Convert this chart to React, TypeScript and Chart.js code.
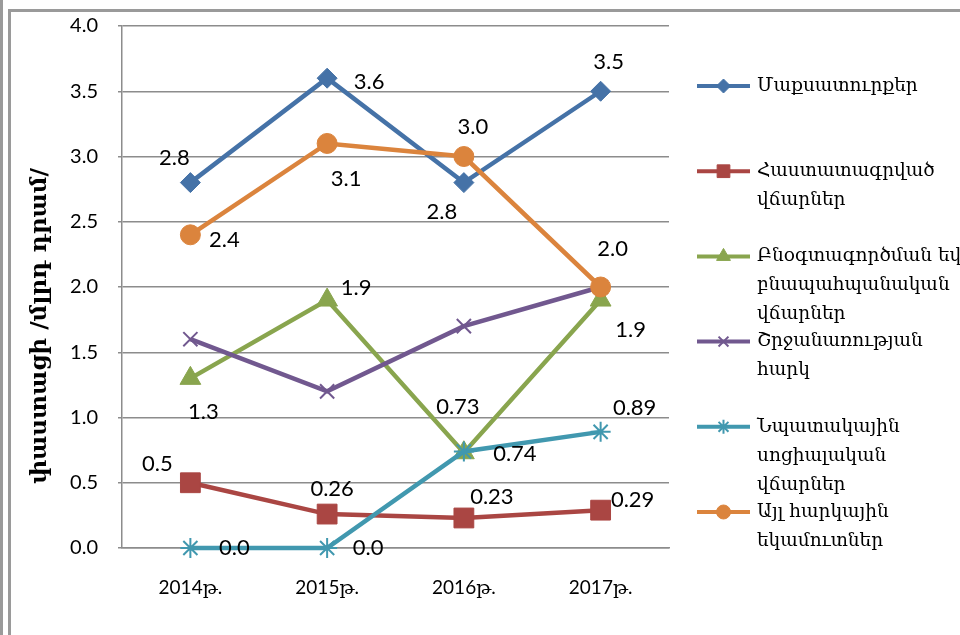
import React, { useEffect, useRef } from "react";
import { Chart, registerables } from "chart.js";
import { drawPoint } from "chart.js/helpers";

Chart.register(...registerables);

// ---------- data ----------
const categories = ["2014թ.", "2015թ.", "2016թ.", "2017թ."];

const customsDuties = [2.8, 3.6, 2.8, 3.5];
const fixedPayments = [0.5, 0.26, 0.23, 0.29];
const environmentalPayments = [1.3, 1.9, 0.73, 1.9];
const turnoverTax = [1.6, 1.2, 1.7, 2.0];
const targetedSocialPayments = [0, 0, 0.74, 0.89];
const otherTaxRevenue = [2.4, 3.1, 3.0, 2.0];

const seriesNames = [
  ["Մաքսատուրքեր"],
  ["Հաստատագրված", "վճարներ"],
  ["Բնօգտագործման եվ", "բնապահպանական", "վճարներ"],
  ["Շրջանառության", "հարկ"],
  ["Նպատակային", "սոցիալական", "վճարներ"],
  ["Այլ հարկային", "եկամուտներ"],
];

const yAxisTitle = "փաստացի /մլրդ դրամ/";
const yMin = 0;
const yMax = 4;
const yStep = 0.5;

// ---------- styles ----------
const colors = ["#4572A7", "#AA4643", "#89A54E", "#71588F", "#4198AF", "#DB843D"];
const pointStyles = ["rectRot", "rect", "triangle", "crossRot", "star", "circle"];
const pointRadii = [10, 14, 12, 10, 10, 10];
const pointBorderWidths = [1, 1, 1, 2, 2, 1];
const legendPointRadii = [7, 9, 8, 7, 7, 7];

// label offsets (pixels relative to each point) - presentation only
const labelOffsets: (number[][] | null)[] = [
  [[-16, -25], [42, 4], [-22, 29], [8, -29]],
  [[-33, -19], [5, -25], [28, -21], [32, -10]],
  [[13, 34], [29, -12], [-6, -46], [30, 30]],
  null,
  [[44, 0], [41, 0], [51, 2], [34, -24]],
  [[34, 5], [19, 35], [9, -30], [12, -38]],
];

const fmt = (v: number) => (Math.abs(v * 10 - Math.round(v * 10)) < 1e-9 ? v.toFixed(1) : v.toFixed(2));

const dataLabelPlugin = {
  id: "dataLabels",
  afterDatasetsDraw(chart: any) {
    const ctx = chart.ctx;
    ctx.save();
    ctx.font = "22px Lato, 'DejaVu Sans', sans-serif";
    ctx.fillStyle = "#000";
    ctx.textAlign = "center";
    ctx.textBaseline = "middle";
    chart.data.datasets.forEach((ds: any, i: number) => {
      const offs = labelOffsets[i];
      if (!offs) return;
      const meta = chart.getDatasetMeta(i);
      meta.data.forEach((pt: any, j: number) => {
        const [dx, dy] = offs[j];
        ctx.fillText(fmt(ds.data[j]), pt.x + dx, pt.y + dy);
      });
    });
    ctx.restore();
  },
};

const legendPlugin = {
  id: "sideLegend",
  afterDraw(chart: any) {
    const ctx = chart.ctx;
    const x0 = 697;
    const x1 = 750;
    const tx = 757;
    const top = 86;
    const step = 85.2;
    const lineH = 29;
    ctx.save();
    chart.data.datasets.forEach((ds: any, i: number) => {
      const y = top + i * step;
      ctx.strokeStyle = ds.borderColor;
      ctx.lineWidth = 4;
      ctx.beginPath();
      ctx.moveTo(x0, y);
      ctx.lineTo(x1, y);
      ctx.stroke();
      ctx.fillStyle = ds.borderColor;
      ctx.strokeStyle = ds.borderColor;
      ctx.lineWidth = ds.pointBorderWidth;
      drawPoint(
        ctx,
        { pointStyle: ds.pointStyle, radius: legendPointRadii[i], rotation: 0, borderWidth: ds.pointBorderWidth } as any,
        (x0 + x1) / 2,
        y
      );
      ctx.fillStyle = "#000";
      ctx.font = "18.5px 'DejaVu Serif', serif";
      ctx.textAlign = "left";
      ctx.textBaseline = "middle";
      seriesNames[i].forEach((line, k) => ctx.fillText(line, tx, y + k * lineH));
    });
    ctx.restore();
  },
};

const axisTitlePlugin = {
  id: "axisTitle",
  afterDraw(chart: any) {
    const ctx = chart.ctx;
    ctx.save();
    ctx.translate(40, 326);
    ctx.rotate(-Math.PI / 2);
    ctx.font = "bold 23px 'DejaVu Serif', serif";
    ctx.fillStyle = "#000";
    ctx.textAlign = "center";
    ctx.textBaseline = "middle";
    ctx.fillText(yAxisTitle, 0, 0);
    ctx.restore();
  },
};

export default function App() {
  const ref = useRef<HTMLCanvasElement | null>(null);

  useEffect(() => {
    if (!ref.current) return;
    const all = [customsDuties, fixedPayments, environmentalPayments, turnoverTax, targetedSocialPayments, otherTaxRevenue];
    const chart = new Chart(ref.current, {
      type: "line",
      data: {
        labels: categories,
        datasets: all.map((d, i) => ({
          label: seriesNames[i].join(" "),
          data: d,
          borderColor: colors[i],
          backgroundColor: colors[i],
          borderWidth: 4.5,
          tension: 0,
          clip: false as any,
          pointStyle: pointStyles[i] as any,
          pointRadius: pointRadii[i],
          pointHoverRadius: pointRadii[i],
          pointBorderWidth: pointBorderWidths[i],
          pointBackgroundColor: colors[i],
          pointBorderColor: colors[i],
          order: all.length - 1 - i,
          fill: false,
        })),
      },
      options: {
        animation: false,
        responsive: true,
        maintainAspectRatio: false,
        layout: { padding: { left: 0, right: 291, top: 26, bottom: 0 } },
        plugins: { legend: { display: false }, tooltip: { enabled: false } },
        scales: {
          x: {
            type: "category",
            offset: true,
            grid: { display: false, drawTicks: false },
            border: { display: true, color: "#8c8c8c", width: 1.5 },
            ticks: { color: "#000", font: { family: "Lato, 'DejaVu Serif', serif", size: 19 }, padding: 28 },
            afterFit: (s: any) => { s.height = 87; s.paddingLeft = 0; s.paddingRight = 0; },
          },
          y: {
            min: yMin,
            max: yMax,
            grid: { color: "#8c8c8c", lineWidth: 1.5, tickLength: 4 },
            border: { display: true, color: "#8c8c8c", width: 1.5 },
            ticks: {
              stepSize: yStep,
              color: "#000",
              font: { family: "Lato, 'DejaVu Sans', sans-serif", size: 20 },
              padding: 20,
              callback: (v: any) => Number(v).toFixed(1),
            },
            afterFit: (s: any) => { s.width = 122; s.paddingTop = 0; s.paddingBottom = 0; },
          },
        },
      },
      plugins: [dataLabelPlugin, legendPlugin, axisTitlePlugin],
    });
    return () => chart.destroy();
  }, []);

  return (
    <div style={{ position: "fixed", left: 0, top: 0, width: 960, height: 635, background: "#fff", overflow: "hidden" }}>
      <div style={{ position: "absolute", left: 0, top: 0, width: 3, height: 635, background: "#9a9a9a" }} />
      <div
        style={{
          position: "absolute",
          left: 8,
          top: 9,
          width: 960,
          height: 640,
          borderLeft: "3px solid #9a9a9a",
          borderTop: "3px solid #9a9a9a",
        }}
      />
      <canvas ref={ref} style={{ position: "absolute", left: 0, top: 0, width: 960, height: 635 }} />
    </div>
  );
}
